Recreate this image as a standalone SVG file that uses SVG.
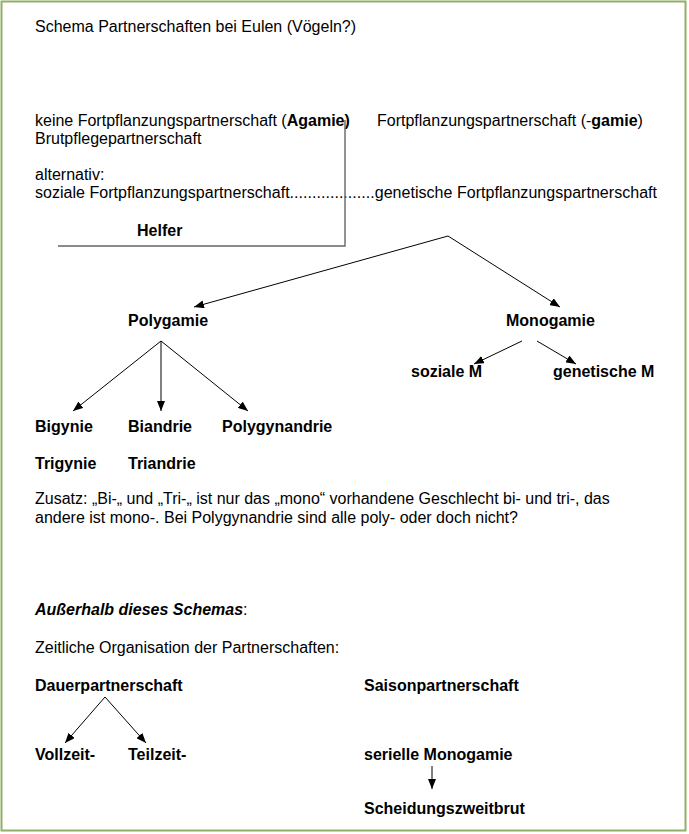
<svg xmlns="http://www.w3.org/2000/svg" width="689" height="834" viewBox="0 0 689 834">
<style>
text{font-family:"Liberation Sans",Arial,sans-serif;font-size:16px;fill:#000}
.b{font-weight:bold}
.bi{font-weight:bold;font-style:italic}
.c{stroke:#000;stroke-width:1;fill:none}
.g{stroke:#666;stroke-width:1.4;fill:none}
</style>
<defs>
<marker id="ah" viewBox="0 0 10 8" refX="10" refY="4" markerWidth="10" markerHeight="8" markerUnits="userSpaceOnUse" orient="auto">
<path d="M0,0 L10,4 L0,8 z" fill="#000"/>
</marker>
</defs>
<rect x="1.5" y="1.5" width="684" height="829" fill="#fff" stroke="#8fb06a" stroke-width="2"/>
<g id="title"><text x="35" y="32">Schema Partnerschaften bei Eulen (Vögeln?)</text></g>
<g id="agamie"><text x="35" y="126">keine Fortpflanzungspartnerschaft (<tspan class="b">Agamie)</tspan></text></g>
<g id="gamie"><text x="377" y="126">Fortpflanzungspartnerschaft (-<tspan class="b">gamie</tspan>)</text></g>
<g id="brutpflege"><text x="35" y="144">Brutpflegepartnerschaft</text></g>
<g id="alternativ"><text x="35" y="180">alternativ:</text><text x="35" y="198" textLength="622" lengthAdjust="spacing">soziale Fortpflanzungspartnerschaft...................genetische Fortpflanzungspartnerschaft</text></g>
<g id="helfer"><text class="b" x="137" y="236">Helfer</text></g>
<g id="polygamie"><text class="b" x="128" y="326">Polygamie</text></g>
<g id="monogamie"><text class="b" x="506" y="326">Monogamie</text></g>
<g id="sozialeM"><text class="b" x="411" y="377">soziale M</text></g>
<g id="genetischeM"><text class="b" x="553" y="377">genetische M</text></g>
<g id="bigynie"><text class="b" x="35" y="432">Bigynie</text></g>
<g id="biandrie"><text class="b" x="128" y="432">Biandrie</text></g>
<g id="polygynandrie"><text class="b" x="222" y="432">Polygynandrie</text></g>
<g id="trigynie"><text class="b" x="35" y="469">Trigynie</text></g>
<g id="triandrie"><text class="b" x="128" y="469">Triandrie</text></g>
<g id="zusatz"><text x="35" y="504">Zusatz: „Bi-„ und „Tri-„ ist nur das „mono“ vorhandene Geschlecht bi- und tri-, das</text><text x="35" y="523">andere ist mono-. Bei Polygynandrie sind alle poly- oder doch nicht?</text></g>
<g id="ausserhalb"><text x="35" y="615"><tspan class="bi">Außerhalb dieses Schemas</tspan>:</text></g>
<g id="zeitlich"><text x="35" y="653">Zeitliche Organisation der Partnerschaften:</text></g>
<g id="dauer"><text class="b" x="35" y="691">Dauerpartnerschaft</text></g>
<g id="saison"><text class="b" x="364" y="691">Saisonpartnerschaft</text></g>
<g id="vollzeit"><text class="b" x="35" y="760">Vollzeit-</text></g>
<g id="teilzeit"><text class="b" x="128" y="760">Teilzeit-</text></g>
<g id="seriell"><text class="b" x="364" y="760">serielle Monogamie</text></g>
<g id="scheidung"><text class="b" x="364" y="814">Scheidungszweitbrut</text></g>
<g id="connectors">
<polyline class="g" points="345,120 345,246 58,246"/>
<line class="c" x1="448" y1="236" x2="194" y2="307" marker-end="url(#ah)"/>
<line class="c" x1="448" y1="236" x2="560" y2="307" marker-end="url(#ah)"/>
<line class="c" x1="161" y1="341" x2="73" y2="411" marker-end="url(#ah)"/>
<line class="c" x1="161" y1="341" x2="161" y2="411" marker-end="url(#ah)"/>
<line class="c" x1="161" y1="341" x2="248" y2="411" marker-end="url(#ah)"/>
<line class="c" x1="522" y1="341" x2="474" y2="364" marker-end="url(#ah)"/>
<line class="c" x1="537" y1="341" x2="576" y2="364" marker-end="url(#ah)"/>
<line class="c" x1="105" y1="697" x2="65" y2="743" marker-end="url(#ah)"/>
<line class="c" x1="105" y1="697" x2="146" y2="743" marker-end="url(#ah)"/>
<line class="c" x1="432" y1="766" x2="432" y2="789" marker-end="url(#ah)"/>
</g>
</svg>
